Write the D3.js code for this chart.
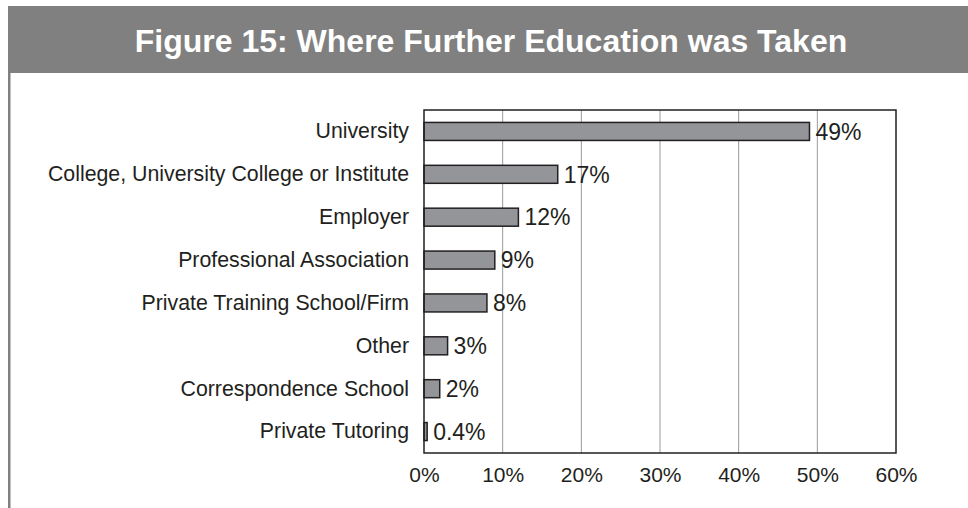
<!DOCTYPE html>
<html>
<head>
<meta charset="utf-8">
<script src="https://cdn.jsdelivr.net/npm/d3@7"></script>
<style>
  body { margin: 0; background: #fff; }
  svg { display: block; font-family: "Liberation Sans", Arial, sans-serif; }
</style>
</head>
<body>
<div id="chart"></div>
<script>
// data
const categories = ['University', 'College, University College or Institute', 'Employer',
  'Professional Association', 'Private Training School/Firm', 'Other',
  'Correspondence School', 'Private Tutoring']
const values = [49, 17, 12, 9, 8, 3, 2, 0.4]
const valueLabels = ['49%', '17%', '12%', '9%', '8%', '3%', '2%', '0.4%']
const ticks = [0, 10, 20, 30, 40, 50, 60]

const width = 968, height = 508
const margin = {top: 110, right: 72, bottom: 55, left: 424}

const svg = d3.select('#chart')
  .append('svg')
  .attr('width', width)
  .attr('height', height)

// header band + left frame line
svg.append('rect')
  .attr('x', 8).attr('y', 6)
  .attr('width', width - 8).attr('height', 67)
  .attr('fill', '#808080')

svg.append('rect')
  .attr('x', 8).attr('y', 73)
  .attr('width', 2.5).attr('height', height - 73)
  .attr('fill', '#808080')

svg.append('text')
  .attr('x', 491).attr('y', 52)
  .attr('text-anchor', 'middle')
  .attr('fill', '#fff')
  .style('font-weight', 'bold')
  .style('font-size', '32px')
  .text('Figure 15: Where Further Education was Taken')

const x = d3.scaleLinear()
  .domain([0, 60])
  .range([margin.left, width - margin.right])

const y = d3.scaleBand()
  .domain(categories)
  .range([margin.top, height - margin.bottom])
  .paddingInner(0.58)
  .paddingOuter(0.29)

// vertical gridlines
svg.append('g')
  .selectAll('line')
  .data(ticks.slice(1, -1))
  .enter()
  .append('line')
  .attr('x1', d => x(d)).attr('x2', d => x(d))
  .attr('y1', margin.top).attr('y2', height - margin.bottom)
  .attr('stroke', '#9a9a9a')
  .attr('stroke-width', 1)

// bars
svg.append('g')
  .selectAll('rect')
  .data(values)
  .enter()
  .append('rect')
  .attr('x', x(0))
  .attr('y', (d, i) => y(categories[i]))
  .attr('width', d => x(d) - x(0))
  .attr('height', y.bandwidth())
  .attr('fill', '#939598')
  .attr('stroke', '#231f20')
  .attr('stroke-width', 1.5)

// plot frame
svg.append('rect')
  .attr('x', x(0)).attr('y', margin.top)
  .attr('width', x(60) - x(0))
  .attr('height', height - margin.bottom - margin.top)
  .attr('fill', 'none')
  .attr('stroke', '#231f20')
  .attr('stroke-width', 1.5)

// value labels
svg.append('g')
  .selectAll('text')
  .data(values)
  .enter()
  .append('text')
  .attr('x', d => x(d) + 6)
  .attr('y', (d, i) => y(categories[i]) + y.bandwidth() / 2)
  .attr('dy', '0.36em')
  .attr('fill', '#231f20')
  .style('font-size', '23px')
  .text((d, i) => valueLabels[i])

// category labels
const yAxis = d3.axisLeft(y).tickSize(0).tickPadding(15)
svg.append('g')
  .attr('transform', `translate(${x(0)},0)`)
  .call(yAxis)
  .call(g => g.select('.domain').remove())
  .selectAll('text')
  .attr('fill', '#231f20')
  .style('font-size', '21.3px')
  .style('font-family', '"Liberation Sans", Arial, sans-serif')

// x tick labels
const xAxis = d3.axisBottom(x).tickValues(ticks).tickSize(0).tickPadding(14)
  .tickFormat(d => d + '%')
svg.append('g')
  .attr('transform', `translate(0,${height - margin.bottom})`)
  .call(xAxis)
  .call(g => g.select('.domain').remove())
  .selectAll('text')
  .attr('fill', '#231f20')
  .style('font-size', '21px')
  .style('font-family', '"Liberation Sans", Arial, sans-serif')
</script>
</body>
</html>
